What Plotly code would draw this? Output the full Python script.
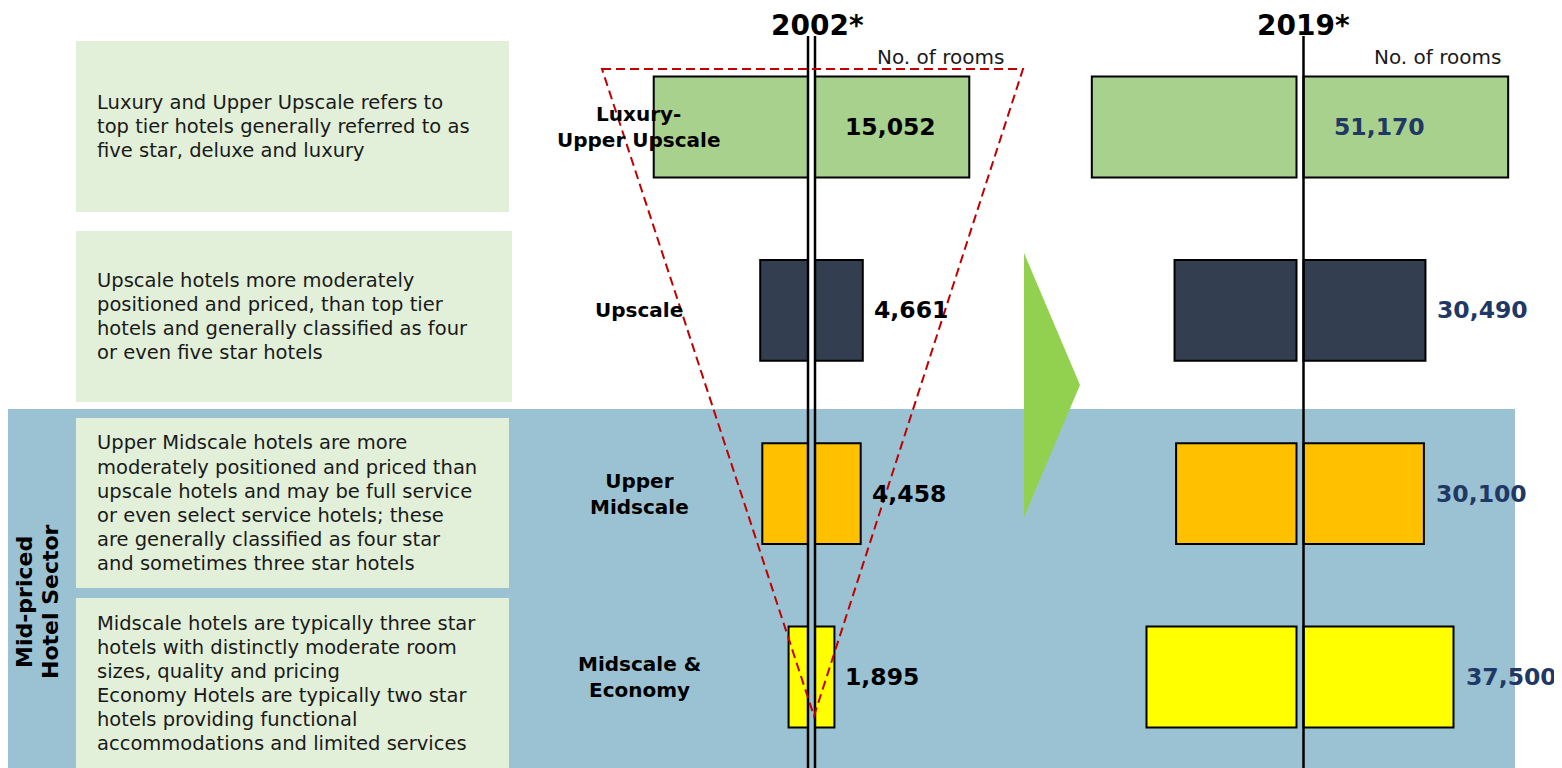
import plotly.graph_objects as go

W, H = 1562, 768
OFF = 8  # the page body adds an 8px margin around the figure
FW, FH = W - OFF, H - OFF

# ---------------------------
# data
# ---------------------------
categories = ["Luxury-<br>Upper Upscale", "Upscale", "Upper<br>Midscale", "Midscale &<br>Economy"]
rooms_2002 = [15052, 4661, 4458, 1895]
rooms_2019 = [51170, 30490, 30100, 37500]
bar_colors = ["#A9D18E", "#333F50", "#FFC000", "#FFFF00"]
years = ["2002*", "2019*"]
unit_label = "No. of rooms"
sector_label = ["Mid-priced", "Hotel Sector"]
descriptions = [
    ["Luxury and Upper Upscale refers to",
     "top tier hotels generally referred to as",
     "five star, deluxe and luxury"],
    ["Upscale hotels more moderately",
     "positioned and priced, than top tier",
     "hotels and generally classified as four",
     "or even five star hotels"],
    ["Upper Midscale hotels are more",
     "moderately positioned and priced than",
     "upscale hotels and may be full service",
     "or even select service hotels; these",
     "are generally classified as four star",
     "and sometimes three star hotels"],
    ["Midscale hotels are typically three star",
     "hotels with distinctly moderate room",
     "sizes, quality and pricing",
     "Economy Hotels are typically two star",
     "hotels providing functional",
     "accommodations and limited services"],
]

FONT = "DejaVu Sans"
GAP = 3.5  # half gap (px) between the two halves of a bar


def px(x):
    return (x - OFF) / FW


def py(y):
    return 1 - (y - OFF) / FH


# panel layout: centre pixel and px per room, one per year
panels = [
    dict(vals=rooms_2002, ax="x", center=811.5, scale=0.0205, color="black", shift=9),
    dict(vals=rooms_2019, ax="x2", center=1300.0, scale=0.0080, color="#1F3864", shift=10),
]

fig = go.Figure()
shapes = []
annotations = []

# background blocks
shapes.append(dict(type="rect", xref="paper", yref="paper", x0=px(4), x1=px(1515),
                   y0=py(768), y1=py(409), fillcolor="#9BC2D3", line_width=0, layer="below"))
boxes = [(76, 509, 41, 212), (76, 512, 231, 402), (76, 509, 418, 588), (76, 509, 598, 768)]
for (bx0, bx1, by0, by1), lines in zip(boxes, descriptions):
    shapes.append(dict(type="rect", xref="paper", yref="paper", x0=px(bx0), x1=px(bx1),
                       y0=py(by1), y1=py(by0), fillcolor="#E2F0D9", line_width=0, layer="below"))
    mid = (by0 + by1) / 2
    n = len(lines)
    for i, ln in enumerate(lines):
        annotations.append(dict(text=ln, xref="paper", yref="paper", x=px(95),
                                y=py(mid + (i - (n - 1) / 2) * 24), xanchor="left", yanchor="middle",
                                showarrow=False, font=dict(family=FONT, size=19.5, color="#1a1a1a")))

# green arrow
shapes.append(dict(type="path", xref="paper", yref="paper",
                   path=f"M {px(1024)},{py(253)} L {px(1080)},{py(385)} L {px(1024)},{py(517)} Z",
                   fillcolor="#92D050", line_width=0, layer="below"))

for p in panels:
    s = p["scale"]
    g = GAP / s
    vals = p["vals"]
    for sign in (-1, 1):
        fig.add_trace(go.Bar(
            y=categories, x=[sign * v / 2 for v in vals], base=sign * g,
            orientation="h", xaxis=p["ax"], yaxis="y", width=0.55,
            marker=dict(color=bar_colors, line=dict(color="black", width=2)),
            hoverinfo="skip", showlegend=False,
        ))
    # value labels
    vmax = max(vals)
    for cat, v in zip(categories, vals):
        inside = v == vmax
        annotations.append(dict(
            text=f"{v:,}", xref=p["ax"], yref="y", y=cat,
            x=g if inside else g + v / 2, xshift=28 if inside else p["shift"],
            xanchor="left", yanchor="middle", showarrow=False,
            font=dict(family=FONT, size=23.5, color=p["color"], weight="bold"),
        ))

# year titles and unit labels
for tx, txt in zip((818, 1303), years):
    annotations.append(dict(text=txt, xref="paper", yref="paper", x=px(tx), y=py(OFF),
                            xanchor="center", yanchor="top", borderpad=0, showarrow=False,
                            font=dict(family=FONT, size=28, color="black", weight="bold")))
for ux in (875, 1372):
    annotations.append(dict(text=unit_label, xref="paper", yref="paper", x=px(ux), y=py(57),
                            xanchor="left", yanchor="middle", showarrow=False,
                            font=dict(family=FONT, size=20, color="#1a1a1a")))

# category labels
for cat in categories:
    annotations.append(dict(text=cat, xref="paper", yref="y", x=px(639), y=cat, showarrow=False,
                            xanchor="center", yanchor="middle", align="center",
                            font=dict(family=FONT, size=20, color="black", weight="bold")))

# sector label (rotated)
for lx, ln in zip((24, 50), sector_label):
    annotations.append(dict(text=ln, xref="paper", yref="paper", x=px(lx), y=py(602), textangle=-90,
                            xanchor="center", yanchor="middle", showarrow=False,
                            font=dict(family=FONT, size=22, color="black", weight="bold")))

# centre lines
g1 = GAP / panels[0]["scale"]
g2 = GAP / panels[1]["scale"]
for xr, xv in (("x", -g1), ("x", g1), ("x2", g2)):
    shapes.append(dict(type="line", xref=xr, yref="paper", x0=xv, x1=xv, y0=py(36), y1=0,
                       line=dict(color="black", width=2.5), layer="above"))

# red dashed funnel
shapes.append(dict(type="path", xref="paper", yref="paper",
                   path=f"M {px(602)},{py(69)} L {px(1023)},{py(69)} L {px(814)},{py(716)} Z",
                   line=dict(color="#C00000", width=2, dash="9px,5px"), fillcolor="rgba(0,0,0,0)",
                   layer="above"))

axis_off = dict(visible=False, showgrid=False, zeroline=False, fixedrange=True)
layout_axes = {}
for i, p in enumerate(panels):
    rng = [(OFF - p["center"]) / p["scale"], (W - p["center"]) / p["scale"]]
    key = "xaxis" if i == 0 else "xaxis2"
    cfg = dict(axis_off, range=rng, domain=[0, 1], anchor="y")
    if i == 1:
        cfg["overlaying"] = "x"
    layout_axes[key] = cfg

step = 183.33
fig.update_layout(
    width=FW, height=FH,
    margin=dict(l=0, r=0, t=0, b=0),
    paper_bgcolor="white", plot_bgcolor="rgba(0,0,0,0)",
    barmode="overlay",
    yaxis=dict(axis_off, type="category", categoryorder="array", categoryarray=categories,
               range=[3 + (H - 677) / step, (OFF - 127) / step], domain=[0, 1]),
    shapes=shapes, annotations=annotations,
    showlegend=False, hovermode=False,
    **layout_axes,
)

fig.write_html("out.html")
